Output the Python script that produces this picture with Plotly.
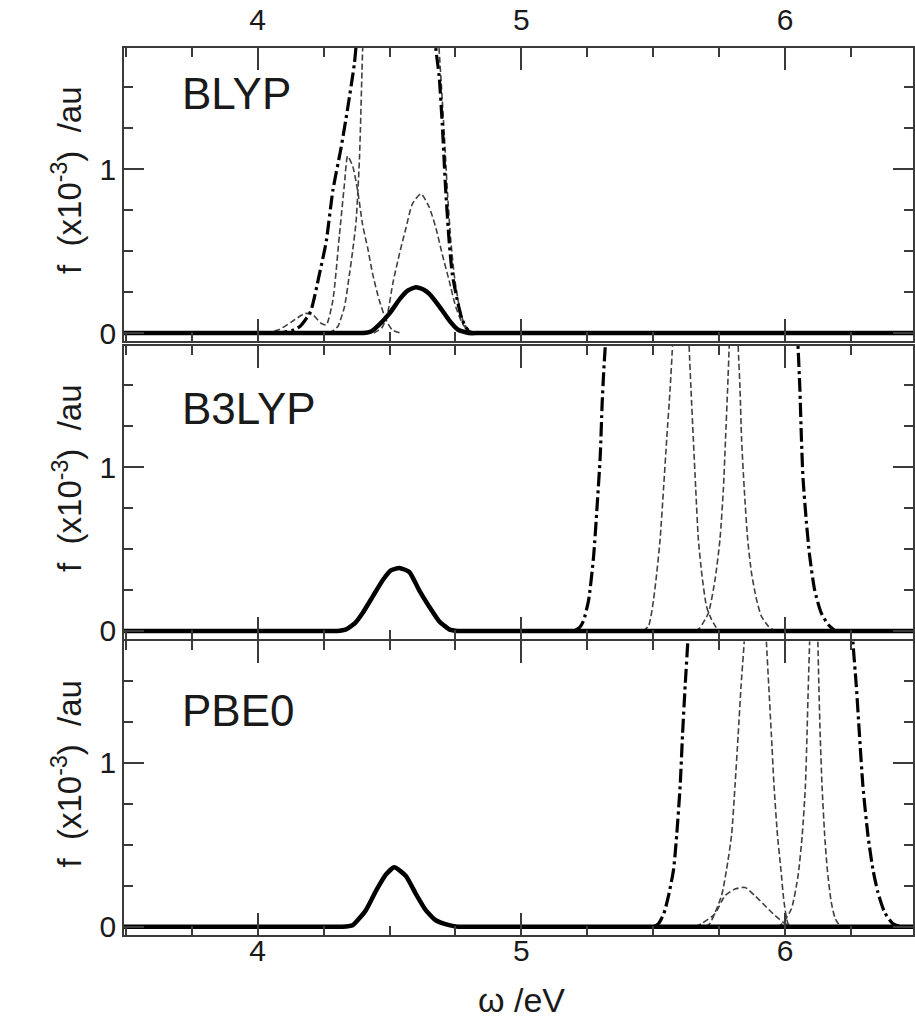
import plotly.graph_objects as go

# ---------------- data ----------------
# BLYP panel
BLYP_SOLID_X = [3.49, 4.0, 4.30, 4.37, 4.40, 4.43, 4.46, 4.50, 4.54, 4.57, 4.60, 4.63, 4.65, 4.69, 4.73, 4.76, 4.80, 4.84, 5.0, 6.49]
BLYP_SOLID_Y = [0, 0, 0, 0, 0, 0.01, 0.05, 0.12, 0.21, 0.26, 0.28, 0.265, 0.24, 0.16, 0.07, 0.02, 0, 0, 0, 0]
BLYP_DASHDOT_X = [4.06, 4.10, 4.13, 4.16, 4.20, 4.234, 4.26, 4.285, 4.316, 4.341, 4.367, 4.378, None,
                  4.672, 4.676, 4.688, 4.70, 4.713, 4.726, 4.738, 4.757, 4.776, 4.80, 4.83]
BLYP_DASHDOT_Y = [0, 0.005, 0.015, 0.04, 0.13, 0.36, 0.56, 0.87, 1.13, 1.37, 1.65, 1.85, None,
                  1.85, 1.73, 1.57, 1.27, 0.87, 0.56, 0.36, 0.20, 0.08, 0.01, 0]
BLYP_DASH_X = [4.03, 4.08, 4.13, 4.18, 4.21, 4.24, 4.26, 4.285, 4.31, 4.329, 4.341, 4.36, 4.379, 4.398,
               4.417, 4.436, 4.461, 4.487, 4.51, 4.54, None,
               4.27, 4.29, 4.304, 4.329, 4.348, 4.36, 4.373, 4.386, 4.398, 4.402, None,
               4.684, 4.688, 4.697, 4.708, 4.72, 4.733, 4.748, 4.766, 4.785, 4.81, 4.84, None,
               4.44, 4.47, 4.49, 4.512, 4.537, 4.562, 4.587, 4.619, 4.65, 4.676, 4.70, 4.726, 4.751,
               4.776, 4.80, 4.84]
BLYP_DASH_Y = [0, 0.02, 0.07, 0.12, 0.11, 0.06, 0.05, 0.20, 0.60, 0.91, 1.08, 1.02, 0.87, 0.66,
               0.52, 0.36, 0.20, 0.08, 0.02, 0, None,
               0, 0.02, 0.04, 0.16, 0.36, 0.50, 0.68, 1.07, 1.73, 1.85, None,
               1.85, 1.73, 1.50, 1.20, 0.85, 0.55, 0.32, 0.15, 0.05, 0.01, 0, None,
               0, 0.03, 0.10, 0.30, 0.48, 0.64, 0.79, 0.85, 0.77, 0.64, 0.48, 0.32, 0.16,
               0.06, 0.01, 0]

# B3LYP panel
B3LYP_SOLID_X = [3.49, 4.0, 4.25, 4.30, 4.335, 4.37, 4.398, 4.436, 4.474, 4.505, 4.537, 4.575, 4.612, 4.65, 4.688, 4.726, 4.76, 4.80, 5.0, 6.49]
B3LYP_SOLID_Y = [0, 0, 0, 0, 0.01, 0.05, 0.11, 0.21, 0.31, 0.37, 0.385, 0.36, 0.25, 0.15, 0.06, 0.01, 0, 0, 0, 0]
B3LYP_DASHDOT_X = [5.20, 5.22, 5.235, 5.255, 5.274, 5.287, 5.299, 5.306, 5.312, 5.318, 5.322, None,
                   6.046, 6.049, 6.056, 6.062, 6.068, 6.081, 6.093, 6.112, 6.137, 6.163, 6.19]
B3LYP_DASHDOT_Y = [0, 0.02, 0.06, 0.19, 0.46, 0.76, 1.07, 1.38, 1.58, 1.74, 1.85, None,
                   1.85, 1.74, 1.48, 1.17, 0.93, 0.66, 0.46, 0.25, 0.11, 0.04, 0]
B3LYP_DASH_X = [5.46, 5.482, 5.501, 5.513, 5.526, 5.539, 5.551, 5.564, 5.573, 5.576, None,
                5.634, 5.636, 5.643, 5.652, 5.661, 5.671, 5.684, 5.702, 5.721, 5.747, None,
                5.66, 5.677, 5.709, 5.734, 5.753, 5.766, 5.774, 5.782, 5.788, 5.790, None,
                5.820, 5.822, 5.829, 5.835, 5.845, 5.858, 5.873, 5.892, 5.910, 5.936, 5.96]
B3LYP_DASH_Y = [0, 0.03, 0.19, 0.35, 0.56, 0.87, 1.17, 1.48, 1.74, 1.85, None,
                1.85, 1.74, 1.48, 1.17, 0.87, 0.56, 0.35, 0.15, 0.07, 0, None,
                0, 0.02, 0.11, 0.31, 0.56, 0.87, 1.17, 1.48, 1.74, 1.85, None,
                1.85, 1.74, 1.48, 1.17, 0.87, 0.56, 0.35, 0.19, 0.09, 0.03, 0]

# PBE0 panel
PBE0_SOLID_X = [3.49, 4.0, 4.27, 4.32, 4.36, 4.41, 4.449, 4.487, 4.518, 4.562, 4.60, 4.638, 4.675, 4.726, 4.76, 4.80, 5.0, 6.49]
PBE0_SOLID_Y = [0, 0, 0, 0, 0.01, 0.10, 0.22, 0.32, 0.363, 0.31, 0.20, 0.10, 0.04, 0.01, 0, 0, 0, 0]
PBE0_DASHDOT_X = [5.50, 5.52, 5.54, 5.558, 5.577, 5.589, 5.602, 5.611, 5.621, 5.631, 5.634, None,
                  6.254, 6.257, 6.270, 6.282, 6.295, 6.314, 6.333, 6.352, 6.377, 6.408, 6.44]
PBE0_DASHDOT_Y = [0, 0.02, 0.08, 0.19, 0.35, 0.56, 0.86, 1.17, 1.47, 1.74, 1.85, None,
                  1.85, 1.74, 1.47, 1.17, 0.86, 0.56, 0.35, 0.21, 0.09, 0.02, 0]
PBE0_DASH_X = [5.66, 5.684, 5.734, 5.772, 5.81, 5.848, 5.885, 5.923, 5.961, 5.999, 6.024, None,
               5.70, 5.715, 5.759, 5.778, 5.797, 5.810, 5.822, 5.833, 5.845, 5.848, None,
               5.926, 5.929, 5.938, 5.948, 5.958, 5.971, 5.984, 5.996, 6.011, 6.025, None,
               5.97, 5.99, 6.024, 6.049, 6.065, 6.077, 6.083, 6.088, 6.093, 6.095, None,
               6.120, 6.124, 6.128, 6.133, 6.140, 6.150, 6.160, 6.175, 6.19, 6.21]
PBE0_DASH_Y = [0, 0.02, 0.08, 0.19, 0.23, 0.24, 0.19, 0.13, 0.07, 0.02, 0, None,
               0, 0.02, 0.19, 0.35, 0.56, 0.86, 1.17, 1.47, 1.74, 1.85, None,
               1.85, 1.74, 1.47, 1.17, 0.86, 0.56, 0.35, 0.15, 0.02, 0, None,
               0, 0.02, 0.11, 0.31, 0.56, 0.86, 1.17, 1.47, 1.74, 1.85, None,
               1.85, 1.74, 1.47, 1.17, 0.86, 0.56, 0.35, 0.15, 0.05, 0]

PANEL_NAMES = ["BLYP", "B3LYP", "PBE0"]
PANEL_LABEL_Y = [1.46, 1.36, 1.32]
X_TICK_LABELS = ["4", "5", "6"]
Y_TITLE = "f  (x10<sup>-3</sup>)  /au"
X_TITLE = "ω /eV"

panels = [
    (BLYP_SOLID_X, BLYP_SOLID_Y, BLYP_DASHDOT_X, BLYP_DASHDOT_Y, BLYP_DASH_X, BLYP_DASH_Y),
    (B3LYP_SOLID_X, B3LYP_SOLID_Y, B3LYP_DASHDOT_X, B3LYP_DASHDOT_Y, B3LYP_DASH_X, B3LYP_DASH_Y),
    (PBE0_SOLID_X, PBE0_SOLID_Y, PBE0_DASHDOT_X, PBE0_DASHDOT_Y, PBE0_DASH_X, PBE0_DASH_Y),
]

# ---------------- figure ----------------
FONT = "Liberation Sans, Arial, Helvetica, sans-serif"
AX = "#3a3a3a"
XR = [3.493, 6.485]
YR = [-0.05, 1.74]
domains = [[0.6694, 1.0], [0.3335, 0.6640], [0.0, 0.3309]]

fig = go.Figure()
for i, (sx, sy, ddx, ddy, dx, dy) in enumerate(panels):
    xa = "x" if i == 0 else f"x{i+1}"
    ya = "y" if i == 0 else f"y{i+1}"
    fig.add_trace(go.Scatter(x=dx, y=dy, xaxis=xa, yaxis=ya, mode="lines",
                             line=dict(color="#404040", width=1.6, dash="6px,3px",
                                       shape="spline", smoothing=0.6),
                             showlegend=False, hoverinfo="skip"))
    fig.add_trace(go.Scatter(x=ddx, y=ddy, xaxis=xa, yaxis=ya, mode="lines",
                             line=dict(color="black", width=3.2, dash="14px,4px,3px,4px",
                                       shape="spline", smoothing=0.6),
                             showlegend=False, hoverinfo="skip"))
    fig.add_trace(go.Scatter(x=sx, y=sy, xaxis=xa, yaxis=ya, mode="lines",
                             line=dict(color="black", width=4.5, shape="spline", smoothing=0.5),
                             showlegend=False, hoverinfo="skip"))

layout = dict(
    width=915, height=1021,
    margin=dict(l=124, r=0, t=48, b=86),
    paper_bgcolor="white", plot_bgcolor="white",
    font=dict(family=FONT, color="#1a1a1a"),
    showlegend=False,
)

for i in range(3):
    xkey = "xaxis" if i == 0 else f"xaxis{i+1}"
    ykey = "yaxis" if i == 0 else f"yaxis{i+1}"
    ya = "y" if i == 0 else f"y{i+1}"
    xa = "x" if i == 0 else f"x{i+1}"
    layout[xkey] = dict(
        domain=[0, 1], anchor=ya, range=XR,
        side="top" if i == 0 else "bottom",
        showticklabels=(i != 1),
        tickmode="array", tickvals=[4, 5, 6], ticktext=X_TICK_LABELS,
        ticks="inside", ticklen=22, tickwidth=1.5, tickcolor=AX,
        minor=dict(dtick=0.25, tick0=0, ticks="inside", ticklen=9, tickwidth=1.5, tickcolor=AX,
                   showgrid=False),
        showline=True, linecolor=AX, linewidth=1.5, mirror="ticks",
        showgrid=False, zeroline=False,
        tickfont=dict(size=30, family=FONT, color="#1a1a1a"),
        ticklabelstandoff=4 if i == 0 else -12,
    )
    if i > 0:
        layout[xkey]["matches"] = "x"
    layout[ykey] = dict(
        domain=domains[i], anchor=xa, range=YR,
        tickmode="array", tickvals=[0, 1], ticktext=["0", "1"],
        ticks="inside", ticklen=20, tickwidth=1.5, tickcolor=AX,
        minor=dict(dtick=0.25, tick0=0, ticks="inside", ticklen=9, tickwidth=1.5, tickcolor=AX,
                   showgrid=False),
        showline=True, linecolor=AX, linewidth=1.5, mirror="ticks",
        showgrid=False, zeroline=False,
        tickfont=dict(size=30, family=FONT, color="#1a1a1a"),
    )

annotations = []
for i, name in enumerate(PANEL_NAMES):
    xa = "x" if i == 0 else f"x{i+1}"
    ya = "y" if i == 0 else f"y{i+1}"
    annotations.append(dict(text=name, xref=xa, yref=ya, x=3.705, y=PANEL_LABEL_Y[i],
                            xanchor="left", yanchor="middle", showarrow=False,
                            font=dict(size=44, family=FONT, color="#1a1a1a")))
    annotations.append(dict(text=Y_TITLE, xref="paper", yref=ya, x=-0.072, y=0.93,
                            xanchor="center", yanchor="middle", textangle=-90, showarrow=False,
                            font=dict(size=33, family=FONT, color="#1a1a1a")))
annotations.append(dict(text=X_TITLE, xref="x3", yref="paper", x=5.0, y=-0.0733,
                        xanchor="center", yanchor="middle", showarrow=False,
                        font=dict(size=34, family=FONT, color="#1a1a1a")))
layout["annotations"] = annotations

fig.update_layout(**layout)
fig.write_html("out.html")
